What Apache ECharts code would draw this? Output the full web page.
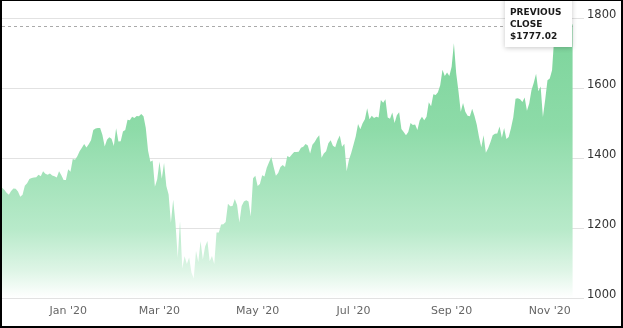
<!DOCTYPE html>
<html><head><meta charset="utf-8">
<script src="https://cdn.jsdelivr.net/npm/echarts@6/dist/echarts.min.js"></script>
<style>
html,body{margin:0;padding:0;background:#fff}
#c{width:623px;height:328px}
#f{position:absolute;left:0;top:0;width:623px;height:328px;box-sizing:border-box;border-style:solid;border-color:#000;border-width:1px 2px 2px 2px;pointer-events:none}
</style>
</head><body><div id="c"></div><div id="f"></div>
<script>
const dates = [
'2019-11-19','2019-11-20','2019-11-21','2019-11-22','2019-11-25','2019-11-26','2019-11-27','2019-11-29',
'2019-12-02','2019-12-03','2019-12-04','2019-12-05','2019-12-06','2019-12-09','2019-12-10','2019-12-11','2019-12-12','2019-12-13','2019-12-16','2019-12-17','2019-12-18','2019-12-19','2019-12-20','2019-12-23','2019-12-24','2019-12-26','2019-12-27','2019-12-30','2019-12-31',
'2020-01-02','2020-01-03','2020-01-06','2020-01-07','2020-01-08','2020-01-09','2020-01-10','2020-01-13','2020-01-14','2020-01-15','2020-01-16','2020-01-17','2020-01-21','2020-01-22','2020-01-23','2020-01-24','2020-01-27','2020-01-28','2020-01-29','2020-01-30','2020-01-31',
'2020-02-03','2020-02-04','2020-02-05','2020-02-06','2020-02-07','2020-02-10','2020-02-11','2020-02-12','2020-02-13','2020-02-14','2020-02-18','2020-02-19','2020-02-20','2020-02-21','2020-02-24','2020-02-25','2020-02-26','2020-02-27','2020-02-28',
'2020-03-02','2020-03-03','2020-03-04','2020-03-05','2020-03-06','2020-03-09','2020-03-10','2020-03-11','2020-03-12','2020-03-13','2020-03-16','2020-03-17','2020-03-18','2020-03-19','2020-03-20','2020-03-23','2020-03-24','2020-03-25','2020-03-26','2020-03-27','2020-03-30','2020-03-31',
'2020-04-01','2020-04-02','2020-04-03','2020-04-06','2020-04-07','2020-04-08','2020-04-09','2020-04-13','2020-04-14','2020-04-15','2020-04-16','2020-04-17','2020-04-20','2020-04-21','2020-04-22','2020-04-23','2020-04-24','2020-04-27','2020-04-28','2020-04-29','2020-04-30',
'2020-05-01','2020-05-04','2020-05-05','2020-05-06','2020-05-07','2020-05-08','2020-05-11','2020-05-12','2020-05-13','2020-05-14','2020-05-15','2020-05-18','2020-05-19','2020-05-20','2020-05-21','2020-05-22','2020-05-26','2020-05-27','2020-05-28','2020-05-29',
'2020-06-01','2020-06-02','2020-06-03','2020-06-04','2020-06-05','2020-06-08','2020-06-09','2020-06-10','2020-06-11','2020-06-12','2020-06-15','2020-06-16','2020-06-17','2020-06-18','2020-06-19','2020-06-22','2020-06-23','2020-06-24','2020-06-25','2020-06-26','2020-06-29','2020-06-30',
'2020-07-01','2020-07-02','2020-07-06','2020-07-07','2020-07-08','2020-07-09','2020-07-10','2020-07-13','2020-07-14','2020-07-15','2020-07-16','2020-07-17','2020-07-20','2020-07-21','2020-07-22','2020-07-23','2020-07-24','2020-07-27','2020-07-28','2020-07-29','2020-07-30','2020-07-31',
'2020-08-03','2020-08-04','2020-08-05','2020-08-06','2020-08-07','2020-08-10','2020-08-11','2020-08-12','2020-08-13','2020-08-14','2020-08-17','2020-08-18','2020-08-19','2020-08-20','2020-08-21','2020-08-24','2020-08-25','2020-08-26','2020-08-27','2020-08-28','2020-08-31',
'2020-09-01','2020-09-02','2020-09-03','2020-09-04','2020-09-08','2020-09-09','2020-09-10','2020-09-11','2020-09-14','2020-09-15','2020-09-16','2020-09-17','2020-09-18','2020-09-21','2020-09-22','2020-09-23','2020-09-24','2020-09-25','2020-09-28','2020-09-29','2020-09-30',
'2020-10-01','2020-10-02','2020-10-05','2020-10-06','2020-10-07','2020-10-08','2020-10-09','2020-10-12','2020-10-13','2020-10-14','2020-10-15','2020-10-16','2020-10-19','2020-10-20','2020-10-21','2020-10-22','2020-10-23','2020-10-26','2020-10-27','2020-10-28','2020-10-29','2020-10-30',
'2020-11-02','2020-11-03','2020-11-04','2020-11-05','2020-11-06','2020-11-09','2020-11-10','2020-11-11','2020-11-12','2020-11-13','2020-11-16'
];
const closes = [
1315,1309,1301,1295,1306,1313,1312,1304,
1289,1295,1321,1328,1340,1343,1344,1345,1352,1348,1362,1355,1352,1356,1350,1348,1344,1362,1351,1337,1337,
1368,1361,1397,1395,1405,1419,1429,1440,1430,1439,1451,1480,1484,1486,1486,1466,1433,1452,1459,1455,1434,
1485,1447,1448,1476,1480,1509,1508,1518,1514,1520,1519,1526,1519,1486,1421,1389,1393,1318,1339,
1389,1341,1386,1320,1296,1215,1281,1215,1115,1219,1084,1119,1097,1116,1073,1056,1134,1103,1162,1110,1147,1163,
1105,1120,1097,1187,1187,1210,1211,1217,1269,1262,1263,1283,1266,1216,1263,1276,1279,1276,1233,1342,1349,
1320,1326,1351,1347,1372,1388,1403,1375,1349,1357,1374,1380,1374,1406,1402,1410,1417,1417,1418,1429,
1432,1440,1436,1413,1438,1446,1457,1465,1401,1413,1419,1442,1451,1435,1431,1451,1464,1432,1441,1362,1394,1414,
1438,1462,1497,1482,1499,1511,1542,1511,1521,1514,1518,1516,1566,1558,1568,1516,1512,1530,1500,1522,1531,1483,
1474,1465,1474,1500,1494,1496,1480,1507,1518,1508,1518,1559,1548,1582,1580,1588,1608,1652,1634,1644,1634,
1661,1728,1642,1591,1532,1557,1532,1521,1519,1541,1521,1496,1460,1431,1465,1415,1428,1445,1465,1469,1470,
1490,1458,1486,1454,1460,1485,1516,1569,1571,1568,1560,1573,1535,1556,1594,1615,1641,1591,1604,1517,1567,1622,
1627,1651,1749,1763,1762,1764,1741,1752,1749,1777,1782
];
const labelDates = ['2020-01-02','2020-03-02','2020-05-01','2020-07-01','2020-09-01','2020-11-02'];
const labelTexts = ["Jan '20","Mar '20","May '20","Jul '20","Sep '20","Nov '20"];
const yMin = 1000, yMax = 1800, yStep = 200;
const prevClose = 1777.02;
const boxLines = ['PREVIOUS', 'CLOSE', '$' + prevClose.toFixed(2)];

const chart = echarts.init(document.getElementById('c'), null, {renderer: 'canvas'});
chart.setOption({
  animation: false,
  backgroundColor: '#fff',
  textStyle: {fontFamily: '"DejaVu Sans", sans-serif'},
  grid: {left: 2, right: 39, top: 18, bottom: 30, containLabel: false},
  xAxis: {
    type: 'category', data: dates, boundaryGap: false, max: 255,
    axisLine: {show: false}, axisTick: {show: false}, splitLine: {show: false},
    axisLabel: {
      margin: 8, color: '#666', fontSize: 11, fontFamily: '"DejaVu Sans", sans-serif',
      interval: (i, v) => labelDates.indexOf(v) >= 0,
      formatter: v => { const k = labelDates.indexOf(v); return k >= 0 ? labelTexts[k] : ''; }
    }
  },
  yAxis: {
    type: 'value', position: 'right', min: yMin, max: yMax, interval: yStep,
    axisLine: {show: false}, axisTick: {show: false},
    splitLine: {lineStyle: {color: '#e2e2e2', width: 1}},
    axisLabel: {margin: 3, color: '#333', fontSize: 11.5, fontFamily: '"DejaVu Sans", sans-serif',
      verticalAlign: 'bottom', lineHeight: 6, formatter: v => String(v)}
  },
  series: [{
    type: 'line', data: closes, showSymbol: false, symbol: 'none', z: 2,
    lineStyle: {width: 0},
    areaStyle: {
      opacity: 1,
      color: new echarts.graphic.LinearGradient(0, 0, 0, 1, [
        {offset: 0, color: '#7cd49b'},
        {offset: 0.38, color: '#8ddba8'},
        {offset: 0.5, color: '#9ce0b4'},
        {offset: 0.75, color: '#b8eaca'},
        {offset: 0.9, color: '#def5e6'},
        {offset: 1, color: '#ffffff'}
      ])
    },
    markLine: {
      silent: true, symbol: 'none', label: {show: false},
      lineStyle: {type: [3, 3], color: '#aaa', width: 1},
      data: [[{xAxis: dates[0], yAxis: prevClose}, {xAxis: dates[dates.length - 1], yAxis: prevClose}]]
    }
  }],
  graphic: [
    {type: 'rect', z: 100, zlevel: 1, shape: {x: 505, y: -4, width: 67, height: 51},
      style: {fill: '#fff', shadowBlur: 5, shadowColor: 'rgba(0,0,0,0.22)', shadowOffsetY: 1}},
    {type: 'text', z: 101, zlevel: 1, x: 510, y: 7,
      style: {text: boxLines.join('\n'), font: 'bold 9px "DejaVu Sans", sans-serif', fill: '#1a1a1a', lineHeight: 12}}
  ]
});
</script>
</body></html>
